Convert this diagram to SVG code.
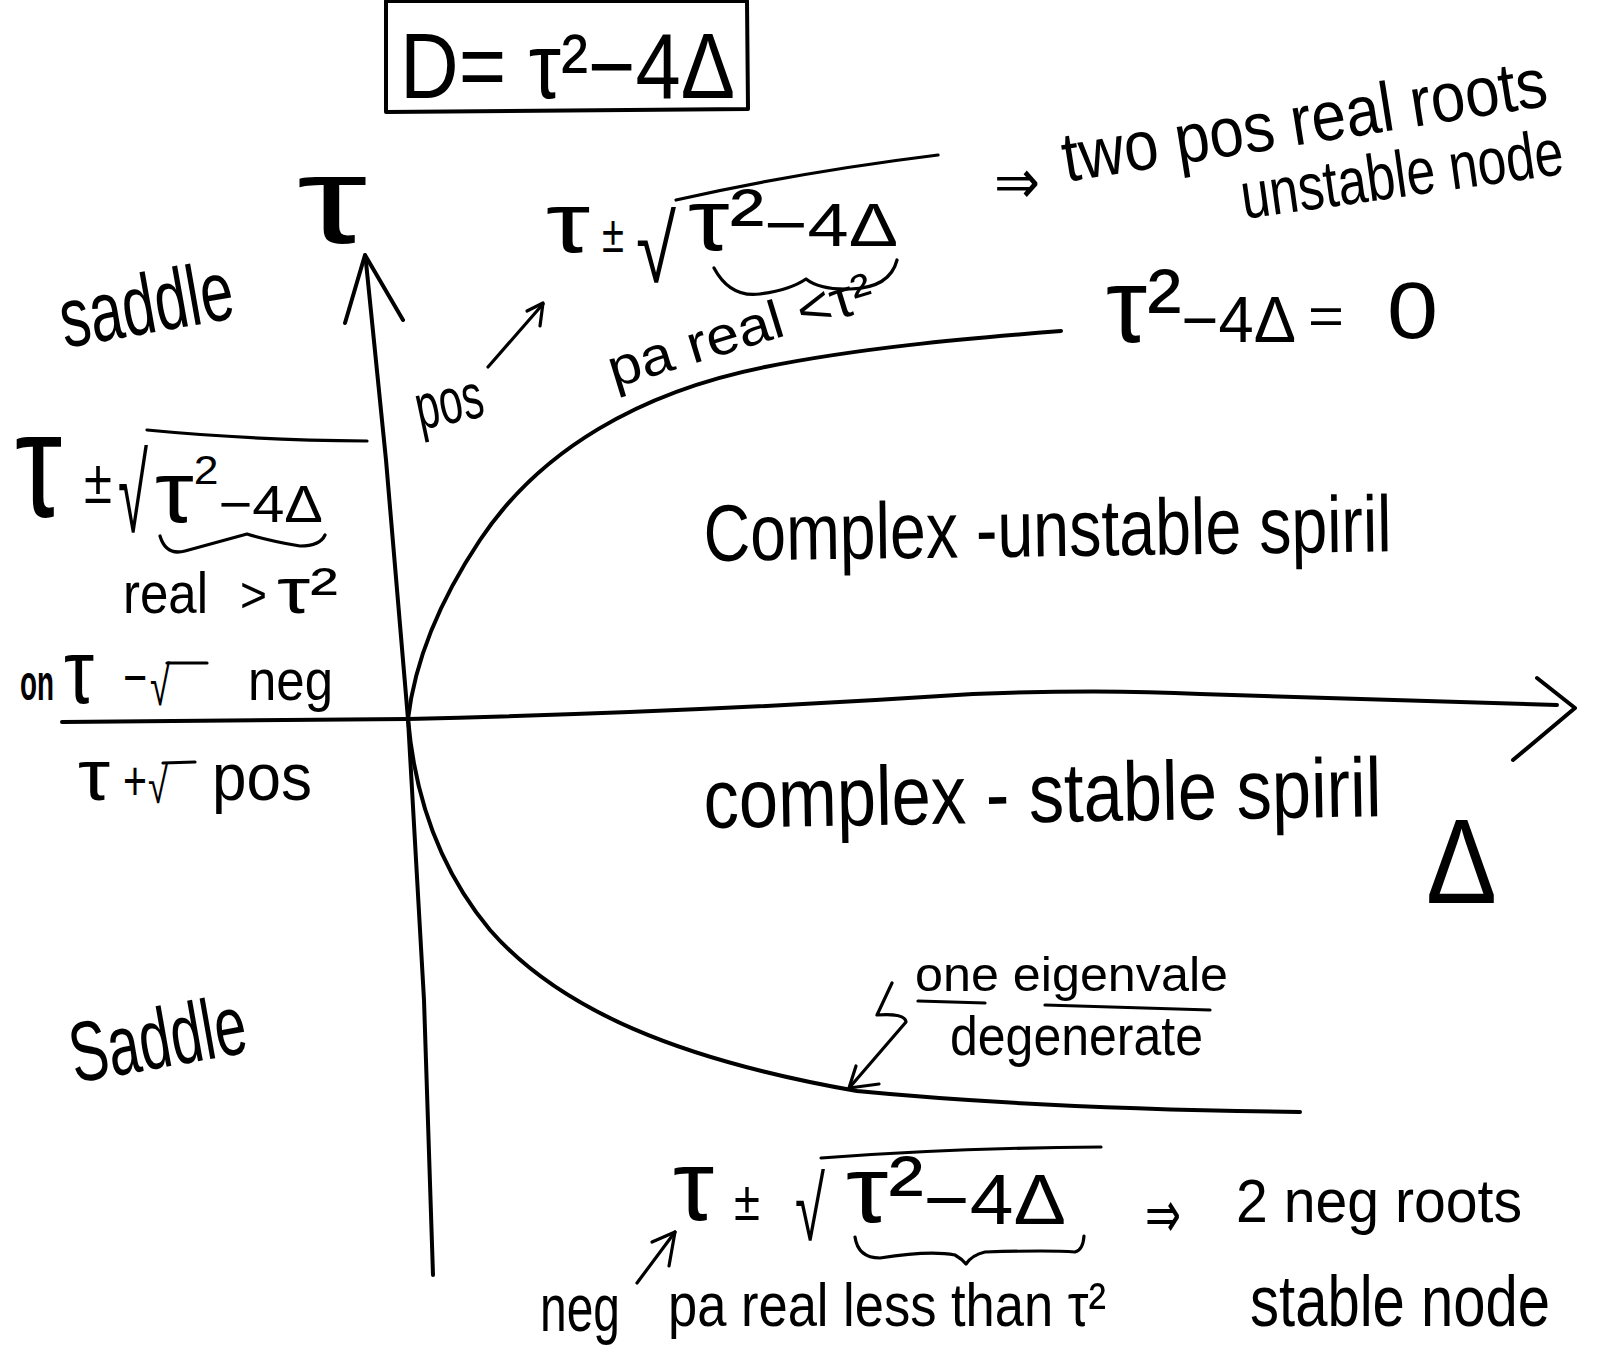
<svg xmlns="http://www.w3.org/2000/svg" width="1599" height="1352" viewBox="0 0 1599 1352">
<style>
text { font-family: "Liberation Sans", "DejaVu Sans", sans-serif; fill: #000; }
.ar { font-family: "DejaVu Sans", "Liberation Sans", sans-serif; }
.ln { fill: none; stroke: #000; stroke-width: 4; stroke-linecap: round; stroke-linejoin: round; }
.th { fill: none; stroke: #000; stroke-width: 3.2; stroke-linecap: round; stroke-linejoin: round; }
</style>
<rect width="1599" height="1352" fill="#fff"/>

<g id="title-box">
  <path class="ln" d="M386,1 L386,112 L748,109 L747,1 Z"/>
  <text x="400" y="98" font-size="92" textLength="335" lengthAdjust="spacingAndGlyphs">D= τ²−4Δ</text>
</g>

<g id="axes">
  <path class="ln" d="M366,262 L386,460 L408,719 L424,1000 L433,1275"/>
  <path class="ln" d="M345,323 L365,255 L403,320"/>
  <path class="ln" d="M62,722 L408,719 Q700,712 973,694 Q1100,689 1200,694 L1557,705"/>
  <path class="ln" d="M1537,678 L1575,708 L1513,760"/>
  <text x="297" y="243" font-size="125" textLength="70" lengthAdjust="spacingAndGlyphs">τ</text>
  <text x="1426" y="903" font-size="120" textLength="71" lengthAdjust="spacingAndGlyphs">Δ</text>
</g>

<g id="curve">
  <path class="ln" d="M1061,331 C960,339 860,348 765,367 C640,392 540,450 480,540 C440,600 415,660 408,719 C415,800 440,870 490,930 C560,1010 680,1060 857,1091 C1000,1105 1150,1110 1300,1112"/>
</g>

<g id="connectors">
  <path class="th" d="M488,367 L543,304"/>
  <path class="th" d="M527,311 L543,303 L540,326"/>
  <path class="th" d="M637,1283 L675,1232"/>
  <path class="th" d="M652,1242 L675,1232 L669,1266"/>
  <path class="th" d="M892,983 L877,1015 Q905,1013 906,1022 L850,1087"/>
  <path class="th" d="M856,1066 L849,1088 L879,1084"/>
</g>

<g id="saddle-upper">
  <text x="65" y="348" font-size="85" textLength="175" lengthAdjust="spacingAndGlyphs" transform="rotate(-10 65 348)">saddle</text>
</g>

<g id="saddle-lower">
  <text x="75" y="1083" font-size="85" textLength="178" lengthAdjust="spacingAndGlyphs" transform="rotate(-10 75 1083)">Saddle</text>
</g>

<g id="left-formula">
  <text x="15" y="517" font-size="150" textLength="47" lengthAdjust="spacingAndGlyphs">τ</text>
  <text x="84" y="503" font-size="62" textLength="28" lengthAdjust="spacingAndGlyphs">±</text>
  <text x="118" y="532" font-size="110" textLength="30" lengthAdjust="spacingAndGlyphs">√</text>
  <path class="th" d="M147,430 Q250,440 367,441"/>
  <text x="155" y="522" textLength="168" lengthAdjust="spacingAndGlyphs"><tspan font-size="88">τ</tspan><tspan font-size="40" dy="-38">2</tspan><tspan font-size="52" dy="38">−4Δ</tspan></text>
  <path class="th" d="M160,536 Q166,556 185,551 Q225,540 247,534 Q270,541 300,546 Q320,546 325,535"/>
  <text x="123" y="613" font-size="58" textLength="85" lengthAdjust="spacingAndGlyphs">real</text>
  <text x="240" y="612" font-size="50" textLength="27" lengthAdjust="spacingAndGlyphs">&gt;</text>
  <text x="277" y="613" font-size="65" textLength="61" lengthAdjust="spacingAndGlyphs">τ²</text>
</g>

<g id="left-neg">
  <text x="20" y="700" font-size="50" font-weight="bold" textLength="34" lengthAdjust="spacingAndGlyphs">on</text>
  <text x="64" y="703" font-size="90" textLength="30" lengthAdjust="spacingAndGlyphs">τ</text>
  <text x="123" y="696" font-size="55" textLength="24" lengthAdjust="spacingAndGlyphs">−</text>
  <text x="150" y="705" font-size="55" textLength="20" lengthAdjust="spacingAndGlyphs">√</text>
  <path class="th" d="M167,663 L207,663"/>
  <text x="248" y="700" font-size="58" textLength="85" lengthAdjust="spacingAndGlyphs">neg</text>
</g>

<g id="left-pos">
  <text x="78" y="800" font-size="72" textLength="32" lengthAdjust="spacingAndGlyphs">τ</text>
  <text x="123" y="800" font-size="55" textLength="24" lengthAdjust="spacingAndGlyphs">+</text>
  <text x="148" y="803" font-size="50" textLength="20" lengthAdjust="spacingAndGlyphs">√</text>
  <path class="th" d="M163,763 L195,762"/>
  <text x="212" y="800" font-size="66" textLength="100" lengthAdjust="spacingAndGlyphs">pos</text>
</g>

<g id="pos-label">
  <text x="420" y="430" font-size="64" textLength="68" lengthAdjust="spacingAndGlyphs" transform="rotate(-12 420 430)">pos</text>
</g>

<g id="upper-formula">
  <text x="546" y="252" font-size="85" textLength="44" lengthAdjust="spacingAndGlyphs">τ</text>
  <text x="602" y="252" font-size="52" textLength="22" lengthAdjust="spacingAndGlyphs">±</text>
  <text x="636" y="282" font-size="95" textLength="40" lengthAdjust="spacingAndGlyphs">√</text>
  <path class="th" d="M676,200 Q800,172 938,155"/>
  <text x="688" y="250" textLength="210" lengthAdjust="spacingAndGlyphs"><tspan font-size="88">τ²</tspan><tspan font-size="62" dy="-4">−4Δ</tspan></text>
  <path class="th" d="M714,268 Q730,298 760,294 Q790,290 806,279 Q820,290 850,289 Q890,288 897,260"/>
  <text x="614" y="388" font-size="54" textLength="275" lengthAdjust="spacingAndGlyphs" transform="rotate(-17 614 388)">pa real &lt;τ²</text>
</g>

<g id="upper-result">
  <text class="ar" x="994" y="203" font-size="62" textLength="46" lengthAdjust="spacingAndGlyphs">⇒</text>
  <text x="1066" y="182" font-size="70" textLength="490" lengthAdjust="spacingAndGlyphs" transform="rotate(-9 1066 182)">two  pos real roots</text>
  <text x="1244" y="219" font-size="66" textLength="325" lengthAdjust="spacingAndGlyphs" transform="rotate(-8 1244 219)">unstable node</text>
</g>

<g id="boundary-label">
  <text x="1106" y="342" textLength="190" lengthAdjust="spacingAndGlyphs"><tspan font-size="105">τ²</tspan><tspan font-size="64">−4Δ</tspan></text>
  <text x="1308" y="334" font-size="52" textLength="36" lengthAdjust="spacingAndGlyphs">=</text>
  <text x="1387" y="338" font-size="80" textLength="51" lengthAdjust="spacingAndGlyphs">0</text>
</g>

<g id="unstable-spiral">
  <text x="704" y="561" font-size="80" textLength="688" lengthAdjust="spacingAndGlyphs" transform="rotate(-0.8 704 561)">Complex -unstable spiril</text>
</g>

<g id="stable-spiral">
  <text x="704" y="828" font-size="84" textLength="678" lengthAdjust="spacingAndGlyphs" transform="rotate(-1 704 828)">complex - stable spiril</text>
</g>

<g id="degenerate-note">
  <text x="915" y="991" font-size="48" textLength="313" lengthAdjust="spacingAndGlyphs">one eigenvale</text>
  <path class="th" d="M918,1001 L985,1003"/>
  <path class="th" d="M1045,1005 L1210,1010"/>
  <text x="950" y="1055" font-size="56" textLength="253" lengthAdjust="spacingAndGlyphs">degenerate</text>
</g>

<g id="lower-formula">
  <text x="673" y="1220" font-size="100" textLength="41" lengthAdjust="spacingAndGlyphs">τ</text>
  <text x="734" y="1220" font-size="56" textLength="26" lengthAdjust="spacingAndGlyphs">±</text>
  <text x="795" y="1240" font-size="90" textLength="30" lengthAdjust="spacingAndGlyphs">√</text>
  <path class="th" d="M821,1158 Q950,1148 1101,1147"/>
  <text x="846" y="1222" textLength="220" lengthAdjust="spacingAndGlyphs"><tspan font-size="95">τ²</tspan><tspan font-size="70" dy="2">−4Δ</tspan></text>
  <path class="th" d="M855,1237 Q858,1258 880,1258 Q930,1250 955,1255 Q962,1259 966,1264 Q972,1255 985,1252 Q1050,1250 1075,1252 Q1083,1250 1084,1236"/>
  <text x="540" y="1331" font-size="66" textLength="80" lengthAdjust="spacingAndGlyphs">neg</text>
  <text x="668" y="1326" font-size="62" textLength="438" lengthAdjust="spacingAndGlyphs">pa real less than τ²</text>
</g>

<g id="lower-result">
  <text class="ar" x="1145" y="1238" font-size="68" textLength="36" lengthAdjust="spacingAndGlyphs">⇒</text>
  <text x="1236" y="1222" font-size="62" textLength="286" lengthAdjust="spacingAndGlyphs">2 neg roots</text>
  <text x="1250" y="1326" font-size="72" textLength="300" lengthAdjust="spacingAndGlyphs">stable node</text>
</g>
</svg>
